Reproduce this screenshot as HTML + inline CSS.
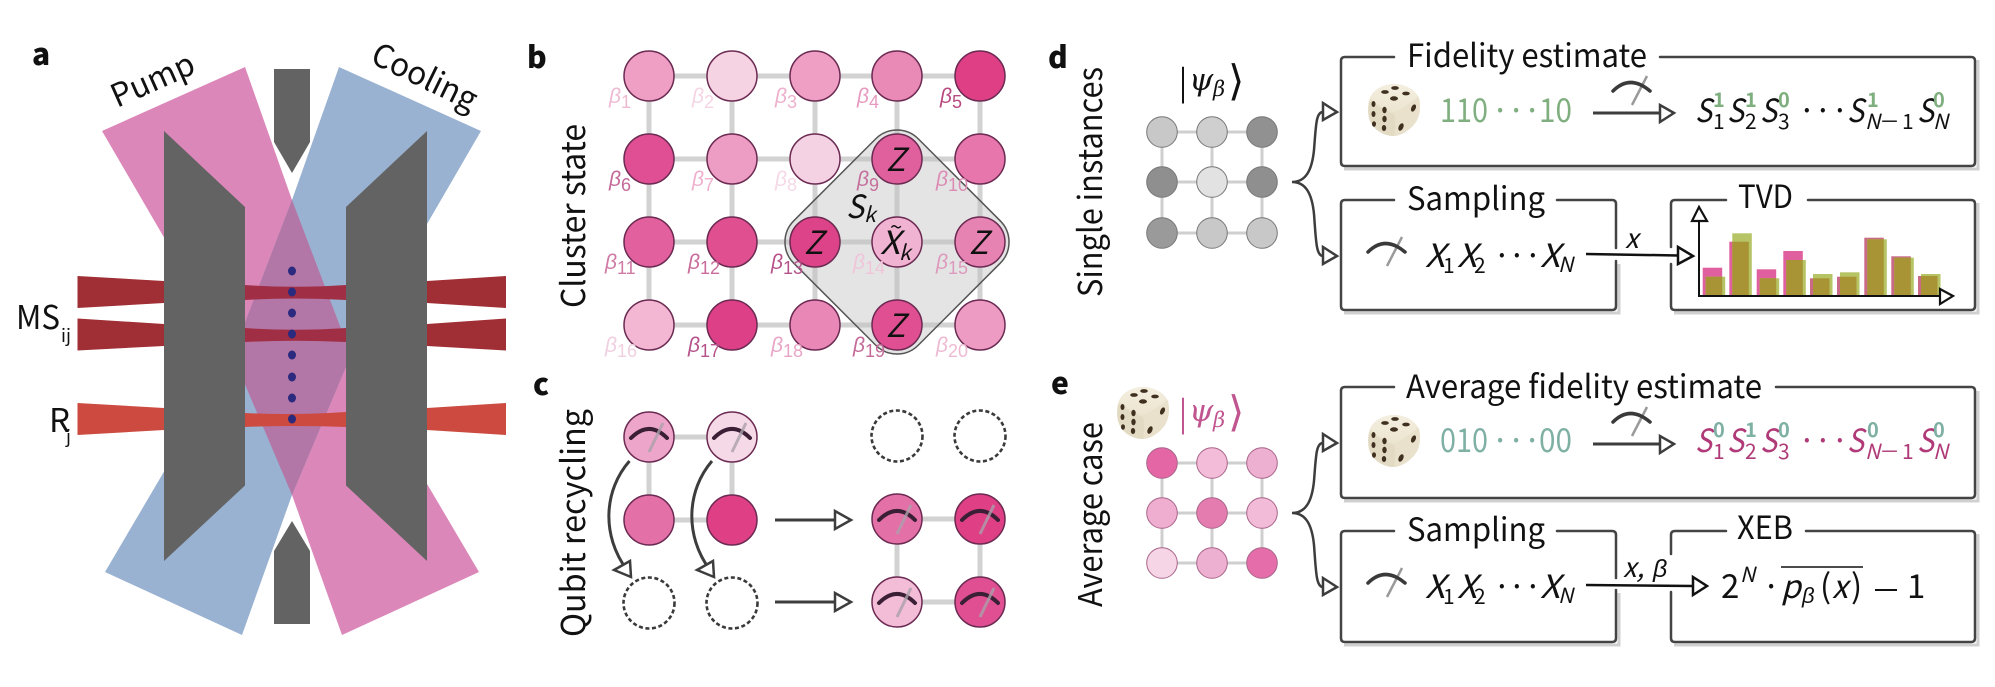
<!DOCTYPE html>
<html><head><meta charset="utf-8"><style>
html,body{margin:0;padding:0;background:#fff}
svg{display:block}
text{font-family:"Noto Sans CJK JP","Liberation Sans",sans-serif;fill:#111}
.lb{font-weight:900;font-size:30px}
.rot{font-size:33px}
.t{font-size:32px}
.m{font-size:32px;font-style:italic}
.s{font-size:21px;font-style:italic}
.d{font-size:21px}
.g{font-size:20px;font-weight:700;fill:#7fae7f}
.g2{font-size:20px;font-weight:700;fill:#7fb0a4}
.b{font-family:"Liberation Sans",sans-serif;font-style:italic;font-size:21px}
.bs{font-size:18px;font-style:normal}
.box{fill:none;stroke:#444;stroke-width:2.5;stroke-linecap:round}
.sh{fill:none;stroke:#d0d0d0;stroke-width:3}
.lk{stroke:#d2d2d2;stroke-width:5;fill:none}
.lk2{stroke:#cfcfcf;stroke-width:3;fill:none}
.c{stroke:#6b2a52;stroke-width:1.5}
.ar{stroke:#3d3d3d;stroke-width:3;fill:none}
.hd{stroke:#3d3d3d;stroke-width:2.5;fill:#fff;stroke-linejoin:miter}
.dash{fill:none;stroke:#3a3a3a;stroke-width:2.6;stroke-dasharray:4 2.6}
.br{fill:none;stroke:#3d3d3d;stroke-width:2.5}
.pk{fill:#b03a78}
</style></head><body>
<svg width="1995" height="687" viewBox="0 0 1995 687" xmlns="http://www.w3.org/2000/svg">
<defs>
<clipPath id="pk"><polygon points="102,131 245,67 292,200 351,355 479,572 342,635 292,495 232.500,355"/></clipPath>
<linearGradient id="dt" x1="0" y1="0" x2="0" y2="1"><stop offset="0" stop-color="#f4eee0"/><stop offset="1" stop-color="#ece5d0"/></linearGradient>
<g id="dice">
<path d="M0,-26 C8,-26 20,-22 25,-12 C27,-4 26,6 22,12 C16,21 6,26 0,26 C-8,26 -18,22 -23,13 C-27,5 -26,-6 -24,-12 C-20,-22 -8,-26 0,-26 Z" fill="#e9e1cb"/>
<path d="M-25,-9 C-14,-2 -6,2 0,4 C2,12 1,20 0,26 C-8,26 -18,22 -23,13 C-27,5 -26,-3 -25,-9 Z" fill="#e2dac2"/>
<path d="M-24,-12 C-20,-22 -8,-26 0,-26 C8,-26 20,-22 24,-13 C14,-5 6,0 0,2 C-8,0 -16,-5 -24,-12 Z" fill="url(#dt)"/>
<g fill="#40301f">
<ellipse cx="-9" cy="-18" rx="3.800" ry="1.900"/><ellipse cx="1" cy="-22" rx="3.800" ry="1.900"/><ellipse cx="12" cy="-16.500" rx="3.800" ry="1.900"/><ellipse cx="0" cy="-11.500" rx="4" ry="2.200"/>
<ellipse cx="-20.500" cy="-6" rx="2" ry="3"/><ellipse cx="-9.500" cy="0" rx="2.200" ry="3.200"/><ellipse cx="-20.500" cy="4" rx="2" ry="3"/><ellipse cx="-9.500" cy="9" rx="2.200" ry="3.200"/><ellipse cx="-20" cy="14" rx="2" ry="2.800"/><ellipse cx="-10" cy="18" rx="2.200" ry="3"/>
<ellipse cx="19.500" cy="-2" rx="2.200" ry="3.800" transform="rotate(25 19.5 -2)"/><ellipse cx="7" cy="17" rx="2.300" ry="4" transform="rotate(25 7 17)"/>
</g></g>
<g id="mi"><path d="M-18,1 Q0,-17 18,1" stroke="#3a1f35" stroke-width="4" fill="none" stroke-linecap="round"/><path d="M0,15 L14,-14" stroke="rgba(170,160,170,.8)" stroke-width="3" fill="none"/></g>
<g id="mo"><path d="M19,14 L34,-15" stroke="#9a9a9a" stroke-width="2.500" fill="none"/><path d="M0,0 Q17,-17 37,0" stroke="#3a3a3a" stroke-width="3.500" fill="none" stroke-linecap="round"/></g>
</defs>

<!-- panel a -->
<polygon points="102,131 245,67 292,200 351,355 479,572 342,635 292,495 232.500,355" fill="#dc87b9"/>
<polygon points="339,67 481,131 351,355 292,495 242,635 105,572 232.500,355 292,200" fill="#9ab2d1"/>
<polygon points="339,67 481,131 351,355 292,495 242,635 105,572 232.500,355 292,200" fill="#b277a6" clip-path="url(#pk)"/>
<path d="M274,69H310V142L292,173L274,142Z" fill="#636363"/>
<path d="M274,624H310V551L292,521L274,551Z" fill="#636363"/>
<path d="M77.500,276L164,281V303L77.500,308Z" fill="#a02e35"/><path d="M506,276L427,281V303L506,308Z" fill="#a02e35"/>
<path d="M77.500,318.500L164,324V346L77.500,350.500Z" fill="#a02e35"/><path d="M506,318.500L427,324V346L506,350.500Z" fill="#a02e35"/>
<path d="M77.500,403L164,408V430L77.500,435Z" fill="#cc4a3f"/><path d="M506,403L427,408V430L506,435Z" fill="#cc4a3f"/>
<path d="M245,285Q295,288.500 346,285V300Q295,297 245,300Z" fill="#a02e45"/>
<path d="M245,328Q295,331.500 346,328V342Q295,339.500 245,342Z" fill="#a02e45"/>
<path d="M245,413Q295,415.500 346,412V427Q295,425 245,427Z" fill="#cc4a3f"/>
<g fill="#2c2a7f"><ellipse cx="292" cy="271" rx="4" ry="4.500"/><ellipse cx="292" cy="292" rx="4" ry="4.500"/><ellipse cx="292" cy="313" rx="4" ry="4.500"/><ellipse cx="292" cy="334" rx="4" ry="4.500"/><ellipse cx="292" cy="355" rx="4" ry="4.500"/><ellipse cx="292" cy="377" rx="4" ry="4.500"/><ellipse cx="292" cy="398" rx="4" ry="4.500"/><ellipse cx="292" cy="419" rx="4" ry="4.500"/></g>
<polygon points="164,131 245,207 245,485.500 164,561" fill="#636363"/>
<polygon points="427,131 346,207 346,485.500 427,561" fill="#636363"/>
<text class="lb" x="32" y="65">a</text>
<text transform="translate(117,108) rotate(-24)" style="font-size:32px" textLength="88" lengthAdjust="spacingAndGlyphs">Pump</text>
<text transform="translate(369,62) rotate(26)" style="font-size:32px" textLength="113" lengthAdjust="spacingAndGlyphs">Cooling</text>
<text x="16" y="329" style="font-size:33px" textLength="44" lengthAdjust="spacingAndGlyphs">MS</text>
<text x="61" y="342" style="font-size:18px">ij</text>
<text x="49" y="432" style="font-size:33px">R</text>
<text x="66" y="443" style="font-size:18px">j</text>

<!-- panel b -->
<text class="lb" x="527" y="68">b</text>
<text class="rot" transform="translate(585,308) rotate(-90)" textLength="184" lengthAdjust="spacingAndGlyphs">Cluster state</text>
<g class="lk">
<path d="M649,76H980M649,159H980M649,242H980M649,325H980M649,76V325M732,76V325M815,76V325M897,76V325M980,76V325"/>
</g>
<rect x="809" y="154" width="176" height="176" rx="30" transform="rotate(45 897 242)" fill="rgba(190,190,190,.42)"/>
<g class="c">
<circle cx="649" cy="76" r="25" fill="#ee9fc3"/><circle cx="732" cy="76" r="25" fill="#f6d3e3"/><circle cx="815" cy="76" r="25" fill="#ee9fc3"/><circle cx="897" cy="76" r="25" fill="#e989b5"/><circle cx="980" cy="76" r="25" fill="#de3f85"/>
<circle cx="649" cy="159" r="25" fill="#e04f93"/><circle cx="732" cy="159" r="25" fill="#ed9dc3"/><circle cx="815" cy="159" r="25" fill="#f5d2e3"/><circle cx="897" cy="159" r="25" fill="#e0609d"/><circle cx="980" cy="159" r="25" fill="#e676ab"/>
<circle cx="649" cy="242" r="25" fill="#e2609d"/><circle cx="732" cy="242" r="25" fill="#e04f90"/><circle cx="815" cy="242" r="25" fill="#dd4388"/><circle cx="897" cy="242" r="25" fill="#f1b3d2"/><circle cx="980" cy="242" r="25" fill="#e783b2"/>
<circle cx="649" cy="325" r="25" fill="#f3b7d4"/><circle cx="732" cy="325" r="25" fill="#dd4087"/><circle cx="815" cy="325" r="25" fill="#e988b6"/><circle cx="897" cy="325" r="25" fill="#df4f92"/><circle cx="980" cy="325" r="25" fill="#ed9bc2"/>
</g>
<rect x="809" y="154" width="176" height="176" rx="30" transform="rotate(45 897 242)" fill="none" stroke="#555" stroke-width="1.500"/>
<g>
<text class="b" x="609" y="103" style="fill:#eeb9d2">β<tspan class="bs" dy="5">1</tspan></text>
<text class="b" x="692" y="103" style="fill:#f5d5e4">β<tspan class="bs" dy="5">2</tspan></text>
<text class="b" x="775" y="103" style="fill:#eeb0cd">β<tspan class="bs" dy="5">3</tspan></text>
<text class="b" x="857" y="103" style="fill:#e79abf">β<tspan class="bs" dy="5">4</tspan></text>
<text class="b" x="940" y="103" style="fill:#b84a80">β<tspan class="bs" dy="5">5</tspan></text>
<text class="b" x="609" y="186" style="fill:#c46a98">β<tspan class="bs" dy="5">6</tspan></text>
<text class="b" x="692" y="186" style="fill:#eeb0cd">β<tspan class="bs" dy="5">7</tspan></text>
<text class="b" x="775" y="186" style="fill:#f5d9e6">β<tspan class="bs" dy="5">8</tspan></text>
<text class="b" x="857" y="186" style="fill:#c56f9c">β<tspan class="bs" dy="5">9</tspan></text>
<text class="b" x="936" y="186" style="fill:#dc8cb4">β<tspan class="bs" dy="5">10</tspan></text>
<text class="b" x="605" y="269" style="fill:#cf7aa5">β<tspan class="bs" dy="5">11</tspan></text>
<text class="b" x="688" y="269" style="fill:#c96c9b">β<tspan class="bs" dy="5">12</tspan></text>
<text class="b" x="771" y="269" style="fill:#b5528a">β<tspan class="bs" dy="5">13</tspan></text>
<text class="b" x="853" y="269" style="fill:#f0c5da">β<tspan class="bs" dy="5">14</tspan></text>
<text class="b" x="936" y="269" style="fill:#dd9abd">β<tspan class="bs" dy="5">15</tspan></text>
<text class="b" x="605" y="352" style="fill:#f0cfe0">β<tspan class="bs" dy="5">16</tspan></text>
<text class="b" x="688" y="352" style="fill:#b5528a">β<tspan class="bs" dy="5">17</tspan></text>
<text class="b" x="771" y="352" style="fill:#e8a5c6">β<tspan class="bs" dy="5">18</tspan></text>
<text class="b" x="853" y="352" style="fill:#c46a98">β<tspan class="bs" dy="5">19</tspan></text>
<text class="b" x="936" y="352" style="fill:#eeb9d2">β<tspan class="bs" dy="5">20</tspan></text>
</g>
<text class="m" x="886" y="171">Z</text><text class="m" x="804" y="254">Z</text><text class="m" x="969" y="254">Z</text><text class="m" x="886" y="337">Z</text>
<text class="m" x="880" y="254" textLength="20" lengthAdjust="spacingAndGlyphs">X</text><text x="890" y="235" style="font-size:22px">~</text><text class="s" x="899" y="260">k</text>
<text class="m" x="846" y="218" textLength="18" lengthAdjust="spacingAndGlyphs">S</text><text class="s" x="864" y="222">k</text>

<!-- panel c -->
<text class="lb" x="533" y="395">c</text>
<text class="rot" transform="translate(585,637) rotate(-90)" textLength="228" lengthAdjust="spacingAndGlyphs">Qubit recycling</text>
<path class="lk" d="M649,437H732M649,437V520M732,437V520M649,520H732M897,519H980M897,519V602M980,519V602M897,602H980"/>
<g class="c">
<circle cx="649" cy="437" r="25" fill="#eda6c9"/><circle cx="732" cy="437" r="25" fill="#f6d9e7"/>
<circle cx="649" cy="520" r="25" fill="#e470a8"/><circle cx="732" cy="520" r="25" fill="#de3f85"/>
<circle cx="897" cy="519" r="25" fill="#e470a8"/><circle cx="980" cy="519" r="25" fill="#de3f85"/>
<circle cx="897" cy="602" r="25" fill="#f3bdd8"/><circle cx="980" cy="602" r="25" fill="#df4f92"/>
</g>
<use href="#mi" x="649" y="437"/><use href="#mi" x="732" y="437"/><use href="#mi" x="897" y="519"/><use href="#mi" x="980" y="519"/><use href="#mi" x="897" y="602"/><use href="#mi" x="980" y="602"/>
<g class="dash"><circle cx="649" cy="603" r="25.500"/><circle cx="732" cy="603" r="25.500"/><circle cx="897" cy="436" r="25.500"/><circle cx="980" cy="436" r="25.500"/></g>
<path class="ar" d="M629.500,461C604,490 601,535 627,570"/><polygon class="hd" points="614,570 630,561 631,577"/>
<path class="ar" d="M712,461C687,490 684,535 710,570"/><polygon class="hd" points="697,570 713,561 714,577"/>
<path class="ar" d="M775,520H835"/><polygon class="hd" points="835,511 835,529 851,520"/>
<path class="ar" d="M775,602H835"/><polygon class="hd" points="835,593 835,611 851,602"/>

<!-- panel d -->
<text class="lb" x="1048" y="68">d</text>
<text class="rot" transform="translate(1102,297) rotate(-90)" textLength="230" lengthAdjust="spacingAndGlyphs">Single instances</text>
<text x="1179" y="95" style="font-family:'Liberation Serif',serif;font-size:40px">|</text>
<text x="1189" y="90" style="font-family:'DejaVu Serif',serif;font-size:31px;font-style:italic">ψ</text>
<text x="1213" y="96" style="font-family:'DejaVu Serif',serif;font-size:21px;font-style:italic">β</text>
<text x="1228" y="95" style="font-family:'DejaVu Sans',sans-serif;font-size:42px">⟩</text>
<path class="lk2" d="M1162,132H1262M1162,182H1262M1162,233H1262M1162,132V233M1212,132V233M1262,132V233"/>
<g stroke="#777" stroke-width="1">
<circle cx="1162" cy="132" r="15.300" fill="#c8c8c8"/><circle cx="1212" cy="132" r="15.300" fill="#cfcfcf"/><circle cx="1262" cy="132" r="15.300" fill="#919191"/>
<circle cx="1162" cy="182" r="15.300" fill="#8f8f8f"/><circle cx="1212" cy="182" r="15.300" fill="#e2e2e2"/><circle cx="1262" cy="182" r="15.300" fill="#8f8f8f"/>
<circle cx="1162" cy="233" r="15.300" fill="#9a9a9a"/><circle cx="1212" cy="233" r="15.300" fill="#c8c8c8"/><circle cx="1262" cy="233" r="15.300" fill="#c8c8c8"/>
</g>
<path class="br" d="M1292,182C1306,182 1312,170 1314,150C1316,125 1316,112 1323,112M1292,182C1306,182 1312,194 1314,214C1316,240 1316,256 1323,256"/>
<polygon class="hd" points="1323,103 1323,120 1337,112"/><polygon class="hd" points="1323,247 1323,264 1337,256"/>

<path class="sh" d="M1344,169H1978V60"/>
<path class="box" d="M1394,57H1345Q1341,57 1341,61V162Q1341,166 1345,166H1971Q1975,166 1975,162V61Q1975,57 1971,57H1660"/>
<text class="t" x="1407" y="67" textLength="240" lengthAdjust="spacingAndGlyphs">Fidelity estimate</text>
<use href="#dice" x="1394" y="110"/>
<text x="1440" y="122" style="font-size:33px;fill:#7fae7f" textLength="48" lengthAdjust="spacingAndGlyphs">110</text>
<text x="1491 1507 1523" y="122" style="font-size:33px;fill:#7fae7f">···</text>
<text x="1539" y="122" style="font-size:33px;fill:#7fae7f" textLength="33" lengthAdjust="spacingAndGlyphs">10</text>
<path class="ar" d="M1593,113H1660"/><polygon class="hd" points="1660,105 1660,122 1674,113"/>
<use href="#mo" x="1613" y="91"/>
<g>
<text class="m" x="1695" y="122" textLength="17" lengthAdjust="spacingAndGlyphs">S</text><text class="d" x="1713" y="129">1</text><text class="g" x="1713" y="107">1</text>
<text class="m" x="1727" y="122" textLength="17" lengthAdjust="spacingAndGlyphs">S</text><text class="d" x="1745" y="129">2</text><text class="g" x="1745" y="107">1</text>
<text class="m" x="1760" y="122" textLength="17" lengthAdjust="spacingAndGlyphs">S</text><text class="d" x="1778" y="129">3</text><text class="g" x="1778" y="107">0</text>
<text x="1798 1814 1831" y="122" style="font-size:32px">···</text>
<text class="m" x="1847" y="122" textLength="17" lengthAdjust="spacingAndGlyphs">S</text><text class="s" x="1865" y="129">N</text><text class="d" x="1881" y="129" textLength="17" lengthAdjust="spacingAndGlyphs">−</text><text class="d" x="1902" y="129">1</text><text class="g" x="1867" y="107">1</text>
<text class="m" x="1917" y="122" textLength="17" lengthAdjust="spacingAndGlyphs">S</text><text class="s" x="1933" y="129">N</text><text class="g" x="1933" y="107">0</text>
</g>

<path class="sh" d="M1344,313H1619V264"/>
<path class="box" d="M1557,200H1612Q1616,200 1616,204V248M1616,261V306Q1616,310 1612,310H1345Q1341,310 1341,306V204Q1341,200 1345,200H1394"/>
<text class="t" x="1407" y="210" textLength="138" lengthAdjust="spacingAndGlyphs">Sampling</text>
<use href="#mo" x="1368" y="252"/>
<text class="m" x="1425" y="267" textLength="20" lengthAdjust="spacingAndGlyphs">X</text><text class="d" x="1443" y="273">1</text>
<text class="m" x="1457" y="267" textLength="20" lengthAdjust="spacingAndGlyphs">X</text><text class="d" x="1474" y="273">2</text>
<text x="1493 1508 1524" y="267" style="font-size:32px">···</text>
<text class="m" x="1540" y="267" textLength="20" lengthAdjust="spacingAndGlyphs">X</text><text class="s" x="1558" y="272">N</text>

<path class="sh" d="M1674,313H1978V203"/>
<path class="box" d="M1726,200H1675Q1671,200 1671,204V247M1671,264V306Q1671,310 1675,310H1971Q1975,310 1975,306V204Q1975,200 1971,200H1808"/>
<text class="t" x="1738" y="208" textLength="55" lengthAdjust="spacingAndGlyphs">TVD</text>
<path d="M1586,254L1678,255.500" stroke="#111" stroke-width="2.500" fill="none"/>
<polygon points="1678,247 1678,264 1693,256" fill="#fff" stroke="#111" stroke-width="2.500"/>
<text class="s" x="1625" y="248" style="font-size:27px">x</text>
<!-- histogram -->
<g fill="#e0609f">
<rect x="1702.700" y="267.700" width="19.500" height="28.300"/><rect x="1729.300" y="241.700" width="19.500" height="54.300"/><rect x="1756.700" y="269.300" width="19.500" height="26.700"/><rect x="1783.300" y="251" width="19.500" height="45"/><rect x="1810" y="278.300" width="19.500" height="17.700" fill="#c96a86"/><rect x="1837" y="276.700" width="19.500" height="19.300" fill="#c96a86"/><rect x="1864.300" y="237.700" width="19.500" height="58.300" fill="#c96a86"/><rect x="1891.300" y="256.300" width="19.500" height="39.700" fill="#c96a86"/><rect x="1918" y="276" width="19.500" height="20" fill="#c96a86"/>
</g>
<g fill="#b7c466">
<rect x="1705.700" y="276.700" width="19.500" height="19.300"/><rect x="1732.300" y="233.300" width="19.500" height="62.700"/><rect x="1759.700" y="278.300" width="19.500" height="17.700"/><rect x="1786.300" y="260" width="19.500" height="36"/><rect x="1813" y="274" width="19.500" height="22"/><rect x="1840" y="272.300" width="19.500" height="23.700"/><rect x="1867.300" y="239.300" width="19.500" height="56.700"/><rect x="1894.300" y="257.700" width="19.500" height="38.300"/><rect x="1921" y="274" width="19.500" height="22"/>
</g>
<g fill="#a89434">
<rect x="1705.700" y="276.700" width="16.500" height="19.300"/><rect x="1732.300" y="241.700" width="16.500" height="54.300"/><rect x="1759.700" y="278.300" width="16.500" height="17.700"/><rect x="1786.300" y="260" width="16.500" height="36"/><rect x="1813" y="278.300" width="16.500" height="17.700"/><rect x="1840" y="276.700" width="16.500" height="19.300"/><rect x="1867.300" y="239.300" width="16.500" height="56.700"/><rect x="1894.300" y="257.700" width="16.500" height="38.300"/><rect x="1921" y="276" width="16.500" height="20"/>
</g>
<path d="M1699,221V296H1940" stroke="#111" stroke-width="2" fill="none"/>
<polygon points="1692,221 1707,221 1699,207" fill="#fff" stroke="#111" stroke-width="2.200"/>
<polygon points="1940,289 1940,304 1953,296" fill="#fff" stroke="#111" stroke-width="2.200"/>

<!-- panel e -->
<text class="lb" x="1051" y="394">e</text>
<text class="rot" transform="translate(1102,607) rotate(-90)" textLength="185" lengthAdjust="spacingAndGlyphs">Average case</text>
<use href="#dice" x="1143" y="413"/>
<text x="1179" y="426" style="font-family:'Liberation Serif',serif;font-size:40px;fill:#c0558f">|</text>
<text x="1189" y="421" style="font-family:'DejaVu Serif',serif;font-size:31px;font-style:italic;fill:#c0558f">ψ</text>
<text x="1213" y="427" style="font-family:'DejaVu Serif',serif;font-size:21px;font-style:italic;fill:#c0558f">β</text>
<text x="1228" y="426" style="font-family:'DejaVu Sans',sans-serif;font-size:42px;fill:#c0558f">⟩</text>
<path class="lk2" d="M1162,463H1262M1162,513H1262M1162,563H1262M1162,463V563M1212,463V563M1262,463V563"/>
<g stroke="#a8648a" stroke-width="1">
<circle cx="1162" cy="463" r="15.300" fill="#e566a5"/><circle cx="1212" cy="463" r="15.300" fill="#f3bcd8"/><circle cx="1262" cy="463" r="15.300" fill="#eeb0d1"/>
<circle cx="1162" cy="513" r="15.300" fill="#efaed0"/><circle cx="1212" cy="513" r="15.300" fill="#e57cb0"/><circle cx="1262" cy="513" r="15.300" fill="#f2bcd8"/>
<circle cx="1162" cy="563" r="15.300" fill="#f6d5e6"/><circle cx="1212" cy="563" r="15.300" fill="#edb0d1"/><circle cx="1262" cy="563" r="15.300" fill="#e56eaa"/>
</g>
<path class="br" d="M1292,513C1306,513 1312,501 1314,481C1316,456 1316,443 1323,443M1292,513C1306,513 1312,525 1314,545C1316,571 1316,587 1323,587"/>
<polygon class="hd" points="1323,434 1323,451 1337,443"/><polygon class="hd" points="1323,578 1323,595 1337,587"/>

<path class="sh" d="M1344,501H1978V391"/>
<path class="box" d="M1394,387H1345Q1341,387 1341,391V494Q1341,498 1345,498H1971Q1975,498 1975,494V391Q1975,387 1971,387H1776"/>
<text class="t" x="1406" y="398" textLength="356" lengthAdjust="spacingAndGlyphs">Average fidelity estimate</text>
<use href="#dice" x="1394" y="441"/>
<text x="1440" y="452" style="font-size:33px;fill:#7fb0a4" textLength="48" lengthAdjust="spacingAndGlyphs">010</text>
<text x="1491 1507 1523" y="452" style="font-size:33px;fill:#7fb0a4">···</text>
<text x="1539" y="452" style="font-size:33px;fill:#7fb0a4" textLength="33" lengthAdjust="spacingAndGlyphs">00</text>
<path class="ar" d="M1593,444H1660"/><polygon class="hd" points="1660,436 1660,453 1674,444"/>
<use href="#mo" x="1613" y="422"/>
<g>
<text class="m pk" x="1695" y="452" textLength="17" lengthAdjust="spacingAndGlyphs" style="fill:#b03a78">S</text><text class="d" x="1713" y="459" style="fill:#b03a78">1</text><text class="g2" x="1713" y="437">0</text>
<text class="m" x="1727" y="452" textLength="17" lengthAdjust="spacingAndGlyphs" style="fill:#b03a78">S</text><text class="d" x="1745" y="459" style="fill:#b03a78">2</text><text class="g2" x="1745" y="437">1</text>
<text class="m" x="1760" y="452" textLength="17" lengthAdjust="spacingAndGlyphs" style="fill:#b03a78">S</text><text class="d" x="1778" y="459" style="fill:#b03a78">3</text><text class="g2" x="1778" y="437">0</text>
<text x="1798 1814 1831" y="452" style="font-size:32px;fill:#b03a78">···</text>
<text class="m" x="1847" y="452" textLength="17" lengthAdjust="spacingAndGlyphs" style="fill:#b03a78">S</text><text class="s" x="1865" y="459" style="fill:#b03a78">N</text><text class="d" x="1881" y="459" textLength="17" lengthAdjust="spacingAndGlyphs" style="fill:#b03a78">−</text><text class="d" x="1902" y="459" style="fill:#b03a78">1</text><text class="g2" x="1867" y="437">0</text>
<text class="m" x="1917" y="452" textLength="17" lengthAdjust="spacingAndGlyphs" style="fill:#b03a78">S</text><text class="s" x="1933" y="459" style="fill:#b03a78">N</text><text class="g2" x="1933" y="437">0</text>
</g>

<path class="sh" d="M1344,645H1619V593"/>
<path class="box" d="M1557,531H1612Q1616,531 1616,535V578M1616,590V638Q1616,642 1612,642H1345Q1341,642 1341,638V535Q1341,531 1345,531H1394"/>
<text class="t" x="1407" y="541" textLength="138" lengthAdjust="spacingAndGlyphs">Sampling</text>
<use href="#mo" x="1368" y="583"/>
<text class="m" x="1425" y="598" textLength="20" lengthAdjust="spacingAndGlyphs">X</text><text class="d" x="1443" y="604">1</text>
<text class="m" x="1457" y="598" textLength="20" lengthAdjust="spacingAndGlyphs">X</text><text class="d" x="1474" y="604">2</text>
<text x="1493 1508 1524" y="598" style="font-size:32px">···</text>
<text class="m" x="1540" y="598" textLength="20" lengthAdjust="spacingAndGlyphs">X</text><text class="s" x="1558" y="603">N</text>

<path class="sh" d="M1674,645H1978V534"/>
<path class="box" d="M1726,531H1675Q1671,531 1671,535V554M1671,592V638Q1671,642 1675,642H1971Q1975,642 1975,638V535Q1975,531 1971,531H1806"/>
<text class="t" x="1737" y="539" textLength="56" lengthAdjust="spacingAndGlyphs">XEB</text>
<path d="M1586,585L1693,586" stroke="#111" stroke-width="2.500" fill="none"/>
<polygon points="1693,577 1693,595 1707,586" fill="#fff" stroke="#111" stroke-width="2.500"/>
<text x="1623" y="577" style="font-size:27px;font-style:italic">x,</text>
<text x="1653" y="577" style="font-family:'Liberation Sans',sans-serif;font-size:25px;font-style:italic">β</text>
<text x="1721" y="598" style="font-size:33px">2</text>
<text class="s" x="1740" y="582">N</text>
<text x="1762" y="598" style="font-size:33px">·</text>
<path d="M1781,567H1863" stroke="#111" stroke-width="1.500"/>
<text class="m" x="1781" y="598">p</text>
<text x="1802" y="603" style="font-family:'Liberation Sans',sans-serif;font-size:22px;font-style:italic">β</text>
<text x="1820" y="598" style="font-size:33px">(</text>
<text class="m" x="1832" y="598">x</text>
<text x="1851" y="598" style="font-size:33px">)</text>
<path d="M1875,590H1897" stroke="#111" stroke-width="2"/>
<text x="1907" y="598" style="font-size:33px">1</text>
</svg>
</body></html>
